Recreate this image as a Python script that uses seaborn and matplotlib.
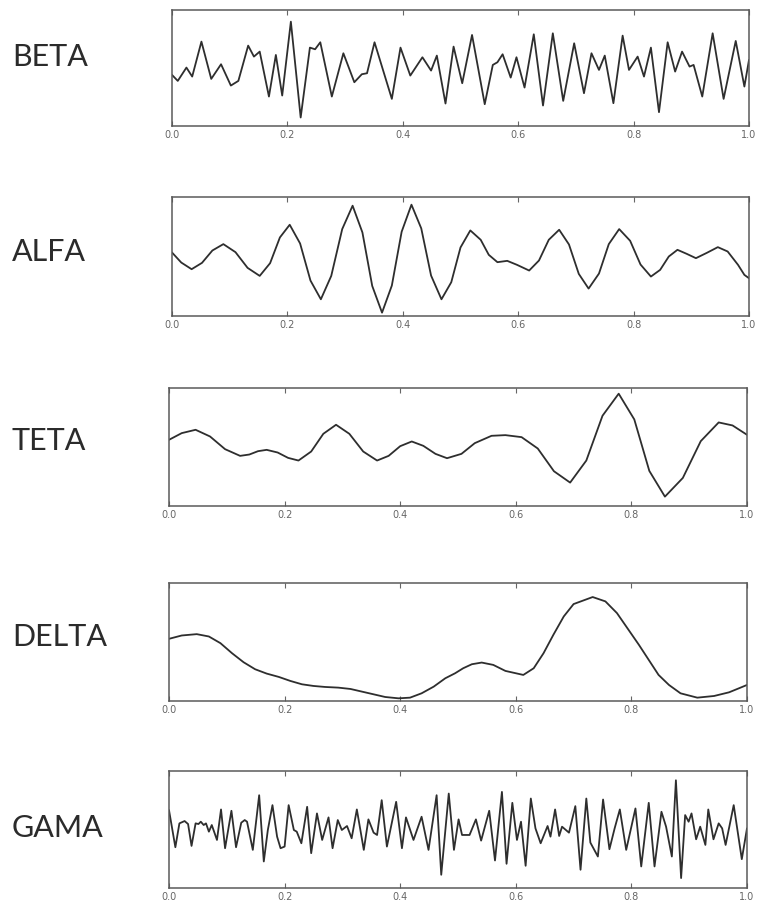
"""Five EEG rhythm traces (BETA, ALFA, TETA, DELTA, GAMA) stacked vertically."""
import matplotlib
matplotlib.use("Agg")
import matplotlib.pyplot as plt
import pandas as pd
import seaborn as sns

# ── data: (time [s], amplitude [a.u.]) ────────────────────────────────────

BETA = [
    (0.000, -20), (0.010, -38), (0.025, 2), (0.035, -25), (0.051, 80),
    (0.068, -32), (0.085, 12), (0.102, -52), (0.115, -38), (0.132, 68),
    (0.142, 35), (0.152, 50), (0.168, -85), (0.180, 40), (0.191, -82),
    (0.206, 140), (0.223, -148), (0.239, 62), (0.248, 57), (0.257, 78),
    (0.277, -85), (0.297, 45), (0.316, -42), (0.329, -18), (0.338, -15),
    (0.351, 78), (0.381, -92), (0.396, 62), (0.413, -22), (0.434, 33),
    (0.449, -7), (0.459, 38), (0.474, -106), (0.488, 65), (0.503, -45),
    (0.520, 100), (0.542, -108), (0.556, 10), (0.564, 18), (0.573, 42),
    (0.587, -28), (0.597, 33), (0.611, -58), (0.627, 102), (0.643, -112),
    (0.660, 105), (0.678, -98), (0.697, 75), (0.714, -75), (0.727, 45),
    (0.740, -5), (0.750, 38), (0.765, -105), (0.781, 98), (0.792, -5),
    (0.807, 35), (0.818, -25), (0.830, 62), (0.844, -132), (0.859, 78),
    (0.872, -10), (0.884, 50), (0.897, 5), (0.904, 10), (0.919, -85),
    (0.937, 105), (0.956, -92), (0.977, 82), (0.992, -55), (1.000, 25),
]

ALFA = [
    (0.000, 12), (0.016, -18), (0.034, -38), (0.052, -19), (0.070, 18),
    (0.089, 37), (0.110, 13), (0.131, -34), (0.152, -58), (0.170, -20),
    (0.187, 57), (0.204, 95), (0.222, 39), (0.240, -72), (0.258, -128),
    (0.276, -58), (0.295, 82), (0.313, 152), (0.330, 72), (0.347, -88),
    (0.364, -168), (0.381, -87), (0.398, 74), (0.415, 155), (0.432, 84),
    (0.449, -57), (0.467, -128), (0.484, -77), (0.500, 27), (0.517, 78),
    (0.535, 50), (0.549, 5), (0.564, -17), (0.581, -13), (0.598, -25),
    (0.619, -42), (0.636, -12), (0.653, 50), (0.671, 80), (0.688, 36),
    (0.705, -52), (0.722, -96), (0.740, -51), (0.757, 37), (0.775, 82),
    (0.794, 47), (0.812, -24), (0.830, -60), (0.846, -40), (0.861, 0),
    (0.876, 20), (0.892, 8), (0.908, -5), (0.927, 11), (0.946, 28),
    (0.963, 15), (0.981, -25), (0.992, -55), (1.000, -65),
]

TETA = [
    (0.000, 20), (0.022, 40), (0.046, 50), (0.071, 30), (0.097, -8),
    (0.123, -28), (0.139, -24), (0.154, -14), (0.169, -10), (0.188, -18),
    (0.206, -34), (0.224, -42), (0.246, -15), (0.267, 38), (0.289, 65),
    (0.312, 38), (0.336, -15), (0.360, -42), (0.380, -28), (0.400, 1),
    (0.420, 15), (0.440, 2), (0.461, -22), (0.481, -35), (0.506, -22),
    (0.529, 10), (0.558, 32), (0.582, 34), (0.610, 28), (0.638, -6),
    (0.666, -74), (0.694, -108), (0.722, -42), (0.750, 92), (0.778, 158),
    (0.805, 81), (0.831, -73), (0.858, -150), (0.889, -94), (0.920, 16),
    (0.951, 72), (0.975, 63), (1.000, 35),
]

DELTA = [
    (0.000, 8), (0.022, 18), (0.048, 22), (0.069, 15), (0.089, -5),
    (0.109, -35), (0.129, -62), (0.149, -83), (0.169, -96), (0.190, -106),
    (0.210, -118), (0.230, -128), (0.250, -133), (0.270, -136), (0.293, -138),
    (0.314, -142), (0.334, -150), (0.354, -158), (0.374, -166), (0.397, -170),
    (0.417, -168), (0.437, -155), (0.458, -135), (0.478, -110), (0.495, -95),
    (0.509, -80), (0.524, -68), (0.541, -63), (0.561, -70), (0.582, -88),
    (0.613, -100), (0.631, -80), (0.648, -35), (0.665, 20), (0.683, 75),
    (0.700, 112), (0.733, 133), (0.755, 120), (0.775, 85), (0.795, 35),
    (0.813, -10), (0.830, -55), (0.847, -100), (0.865, -130), (0.885, -155),
    (0.914, -168), (0.943, -163), (0.969, -152), (0.986, -140), (1.000, -130),
]

GAMA = [
    (0.000, 58), (0.011, -54), (0.018, 18), (0.027, 25), (0.033, 16),
    (0.039, -50), (0.046, 18), (0.051, 16), (0.055, 23), (0.060, 13),
    (0.064, 18), (0.069, -7), (0.074, 13), (0.083, -32), (0.090, 60),
    (0.097, -57), (0.108, 56), (0.116, -54), (0.125, 20), (0.131, 28),
    (0.135, 23), (0.145, -62), (0.156, 103), (0.164, -97), (0.171, -2),
    (0.179, 73), (0.187, -22), (0.193, -57), (0.200, -52), (0.207, 73),
    (0.216, -2), (0.221, -7), (0.229, -42), (0.239, 68), (0.246, -72),
    (0.256, 48), (0.265, -32), (0.276, 36), (0.283, -57), (0.292, 28),
    (0.299, -2), (0.308, 10), (0.316, -27), (0.325, 60), (0.337, -62),
    (0.345, 30), (0.354, -10), (0.360, -17), (0.368, 88), (0.377, -52),
    (0.393, 83), (0.403, -57), (0.410, 36), (0.423, -32), (0.437, 38),
    (0.449, -62), (0.463, 103), (0.471, -137), (0.484, 108), (0.493, -62),
    (0.501, 30), (0.507, -17), (0.520, -17), (0.531, 30), (0.540, -34),
    (0.554, 56), (0.564, -94), (0.576, 113), (0.584, -104), (0.594, 80),
    (0.602, -32), (0.609, 23), (0.617, -110), (0.626, 93), (0.634, 3),
    (0.643, -42), (0.655, 10), (0.660, -22), (0.668, 60), (0.675, -20),
    (0.680, 8), (0.692, -10), (0.703, 70), (0.712, -122), (0.722, 93),
    (0.729, -40), (0.742, -82), (0.751, 90), (0.762, -60), (0.771, 3),
    (0.780, 60), (0.791, -62), (0.807, 63), (0.817, -112), (0.830, 80),
    (0.840, -112), (0.852, 53), (0.860, 8), (0.870, -82), (0.877, 148),
    (0.886, -147), (0.893, 43), (0.899, 23), (0.904, 48), (0.912, -30),
    (0.919, 8), (0.928, -47), (0.933, 60), (0.942, -30), (0.951, 18),
    (0.957, 3), (0.963, -47), (0.977, 73), (0.991, -90), (1.000, 3),
]

BANDS = ["BETA", "ALFA", "TETA", "DELTA", "GAMA"]
SERIES = [BETA, ALFA, TETA, DELTA, GAMA]
TICKS = [0.0, 0.2, 0.4, 0.6, 0.8, 1.0]

# axes boxes in pixels: (left, right, top, bottom), label y centre
W, H = 761, 907
BOXES = [
    (172, 749, 10, 125.5),
    (172, 749, 197, 316),
    (169, 747, 388, 506),
    (169, 747, 583, 701),
    (169, 747, 771, 888),
]
YLIMS = [(-172, 175), (-178, 178), (-178, 175), (-178, 175), (-177, 176)]
LABEL_Y = [57, 252, 441, 637, 828]


def main() -> None:
    sns.set_theme(style="white")
    plt.rcParams["font.family"] = ["DejaVu Sans"]

    fig = plt.figure(figsize=(W / 100, H / 100), dpi=100)
    fig.patch.set_facecolor("white")

    for name, data, box, ylim, ly in zip(BANDS, SERIES, BOXES, YLIMS, LABEL_Y):
        left, right, top, bottom = box
        ax = fig.add_axes([left / W, 1 - bottom / H, (right - left) / W, (bottom - top) / H])
        df = pd.DataFrame(data, columns=["t", "v"])
        sns.lineplot(data=df, x="t", y="v", ax=ax, color="#2e2e2e", linewidth=1.3,
                     sort=False, estimator=None, solid_joinstyle="round",
                     solid_capstyle="round")
        ax.set_xlim(0, 1)
        ax.set_ylim(*ylim)
        ax.set_xticks(TICKS)
        ax.set_xticklabels([f"{t:.1f}" for t in TICKS])
        ax.set_yticks([])
        ax.set_xlabel(""); ax.set_ylabel("")
        ax.tick_params(axis="x", direction="in", top=True, bottom=True, length=3.5,
                       width=0.8, color="#666666", labelsize=7, labelcolor="#666666", pad=3)
        for sp in ax.spines.values():
            sp.set_visible(True)
            sp.set_color("#5a5a5a")
            sp.set_linewidth(1.1)

        fig.text(12 / W, 1 - ly / H, name, family=["Lato", "DejaVu Sans"], fontsize=22,
                 color="#2b2b2b", ha="left", va="center")

    fig.savefig("out.png", dpi=100, facecolor="white")
    plt.close(fig)


if __name__ == "__main__":
    main()
